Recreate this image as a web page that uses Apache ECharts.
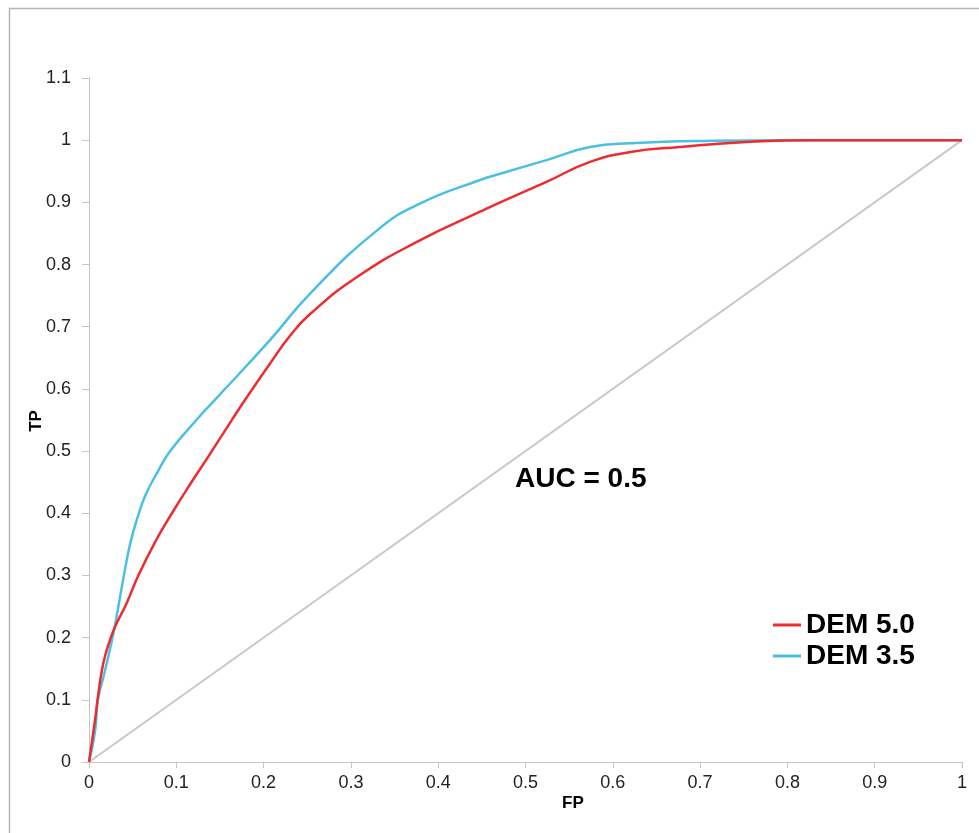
<!DOCTYPE html>
<html>
<head>
<meta charset="utf-8">
<script src="https://cdn.jsdelivr.net/npm/echarts@6/dist/echarts.min.js"></script>
<style>
  html, body { margin: 0; padding: 0; background: #fff; }
  #chart { width: 979px; height: 833px; }
</style>
</head>
<body>
<div id="chart"></div>
<script>
// ROC points: [FP, TP]
var dem50 = [
  [0, 0], [0.0069, 0.0675], [0.0107, 0.11], [0.0164, 0.159], [0.024, 0.196],
  [0.03, 0.218], [0.043, 0.255], [0.0565, 0.3], [0.077, 0.357], [0.095, 0.4],
  [0.116, 0.447], [0.137, 0.492], [0.165, 0.553], [0.18, 0.585], [0.207, 0.64],
  [0.23, 0.685], [0.253, 0.72], [0.307, 0.78], [0.379, 0.839], [0.448, 0.885],
  [0.471, 0.9], [0.524, 0.933], [0.574, 0.965], [0.62, 0.981], [0.677, 0.989],
  [0.753, 0.997], [0.826, 1], [1, 1]
];
var dem35 = [
  [0, 0], [0.007, 0.05], [0.0103, 0.1], [0.018, 0.145], [0.028, 0.207],
  [0.034, 0.253], [0.04, 0.3], [0.047, 0.35], [0.056, 0.395], [0.065, 0.43],
  [0.078, 0.465], [0.093, 0.5], [0.123, 0.55], [0.144, 0.582], [0.207, 0.678],
  [0.253, 0.753], [0.33, 0.855], [0.379, 0.898], [0.448, 0.936], [0.471, 0.946],
  [0.524, 0.968], [0.574, 0.989], [0.62, 0.995], [0.715, 0.999], [0.8, 1], [1, 1]
];
var chance = [[0, 0], [1, 1]];
var xTicks = ['0', '0.1', '0.2', '0.3', '0.4', '0.5', '0.6', '0.7', '0.8', '0.9', '1'];
var yTicks = ['0', '0.1', '0.2', '0.3', '0.4', '0.5', '0.6', '0.7', '0.8', '0.9', '1', '1.1'];

var FONT = '"Liberation Sans", Arial, sans-serif';
var chart = echarts.init(document.getElementById('chart'));

var axisGray = '#c4c4c4';

var option = {
  animation: false,
  backgroundColor: '#fff',
  textStyle: { fontFamily: FONT },
  grid: { left: 89, right: 17, top: 78, bottom: 71 },
  xAxis: {
    type: 'value',
    min: 0, max: 1, interval: 0.1,
    axisLine: { lineStyle: { color: axisGray, width: 1 } },
    axisTick: { show: true, length: 6, lineStyle: { color: axisGray } },
    splitLine: { show: false },
    axisLabel: {
      color: '#222', fontSize: 18, fontFamily: FONT, margin: 12,
      formatter: function (v) { return xTicks[Math.round(v * 10)]; }
    }
  },
  yAxis: {
    type: 'value',
    min: 0, max: 1.1, interval: 0.1,
    axisLine: { show: true, lineStyle: { color: axisGray, width: 1 } },
    axisTick: { show: true, length: 7, lineStyle: { color: axisGray } },
    splitLine: { show: false },
    axisLabel: {
      color: '#222', fontSize: 18, fontFamily: FONT, margin: 18,
      formatter: function (v) { return yTicks[Math.round(v * 10)]; }
    }
  },
  legend: {
    orient: 'vertical',
    left: 768,
    top: 606,
    itemGap: 3,
    itemWidth: 28,
    itemHeight: 3,
    icon: 'rect',
    data: ['DEM 5.0', 'DEM 3.5'],
    textStyle: { color: '#000', fontSize: 28, fontWeight: 'bold', fontFamily: FONT, lineHeight: 28 }
  },
  graphic: [
    {
      type: 'rect', silent: true,
      shape: { x: 9.5, y: 8.5, width: 1200, height: 1200 },
      style: { fill: 'none', stroke: '#b5b5b5', lineWidth: 1.5 }
    },
    {
      type: 'text', left: 515, top: 465,
      style: { text: 'AUC = 0.5', fill: '#000', font: 'bold 28px ' + FONT }
    },
    {
      type: 'text', left: 562, top: 795,
      style: { text: 'FP', fill: '#000', font: 'bold 17px ' + FONT }
    },
    {
      // y axis title, rotated
      type: 'text', x: 36, y: 421, rotation: Math.PI / 2,
      style: {
        text: 'TP', fill: '#000', font: 'bold 17px ' + FONT,
        x: 0, y: 0, align: 'center', verticalAlign: 'middle'
      }
    }
  ],
  series: [
    {
      name: 'chance', type: 'line', data: chance,
      symbol: 'none', silent: true,
      lineStyle: { color: '#c9c9c9', width: 2 },
      z: 1
    },
    {
      name: 'DEM 3.5', type: 'line', data: dem35,
      symbol: 'none', smooth: 0.5,
      itemStyle: { color: '#4bbfe4' },
      lineStyle: { color: '#4bbfe4', width: 2.5 },
      z: 2
    },
    {
      name: 'DEM 5.0', type: 'line', data: dem50,
      symbol: 'none', smooth: 0.5,
      itemStyle: { color: '#ee2b2e' },
      lineStyle: { color: '#ee2b2e', width: 2.5 },
      z: 3
    }
  ]
};

chart.setOption(option);
</script>
</body>
</html>
